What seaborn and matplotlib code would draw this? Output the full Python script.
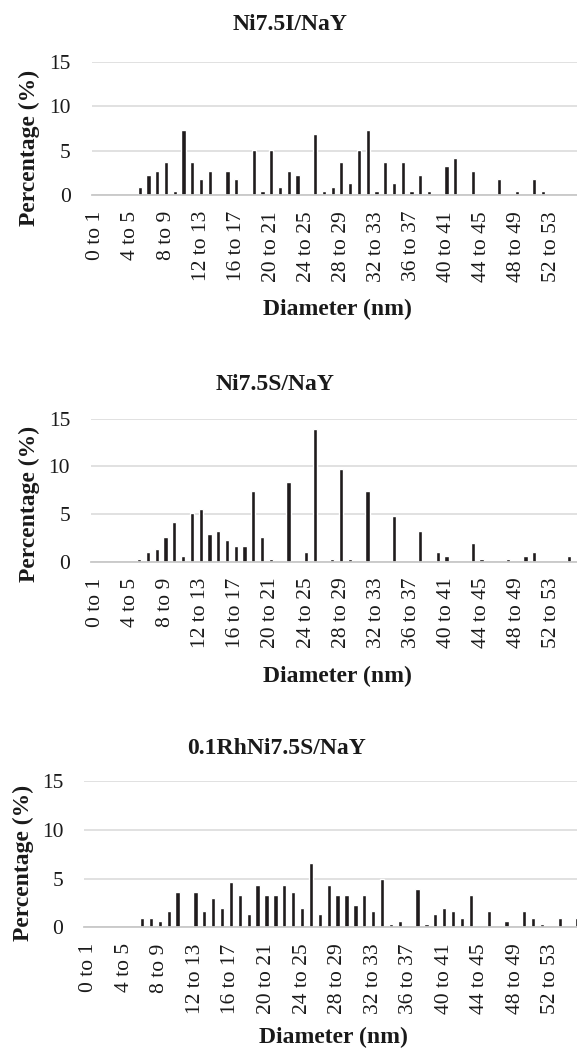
import matplotlib
matplotlib.use("Agg")
import matplotlib.pyplot as plt
import seaborn as sns
import pandas as pd

# ---------------- data ----------------
categories = [f"{i} to {i + 1}" for i in range(56)]

ni75i_nay = [0, 0, 0, 0, 0, 0.92, 2.30, 2.76, 3.69, 0.46,
             7.37, 3.69, 1.84, 2.76, 0, 2.76, 1.84, 0, 5.07, 0.46,
             5.07, 0.92, 2.76, 2.30, 0, 6.91, 0.46, 0.92, 3.69, 1.38,
             5.07, 7.37, 0.46, 3.69, 1.38, 3.69, 0.46, 2.30, 0.46, 0,
             3.23, 4.15, 0, 2.76, 0, 0, 1.84, 0, 0.46, 0,
             1.84, 0.46, 0, 0, 0, 0]

ni75s_nay = [0, 0, 0, 0, 0, 0.32, 0.97, 1.29, 2.58, 4.19,
             0.65, 5.16, 5.48, 2.90, 3.23, 2.26, 1.61, 1.61, 7.42, 2.58,
             0.32, 0, 8.39, 0, 0.97, 13.87, 0, 0.32, 9.68, 0.32,
             0, 7.42, 0, 0, 4.84, 0, 0, 3.23, 0, 0.97,
             0.65, 0, 0, 1.94, 0.32, 0, 0, 0.32, 0, 0.65,
             0.97, 0, 0, 0, 0.65, 0]

rh01_ni75s_nay = [0, 0, 0, 0, 0, 0, 0.99, 0.99, 0.66, 1.65,
                  3.63, 0, 3.63, 1.65, 2.97, 1.98, 4.62, 3.30, 1.32, 4.29,
                  3.30, 3.30, 4.29, 3.63, 1.98, 6.60, 1.32, 4.29, 3.30, 3.30,
                  2.31, 3.30, 1.65, 4.95, 0.33, 0.66, 0, 3.96, 0.33, 1.32,
                  1.98, 1.65, 0.99, 3.30, 0, 1.65, 0, 0.66, 0, 1.65,
                  0.99, 0.33, 0, 0.99, 0, 0.99]

titles = ["Ni7.5I/NaY", "Ni7.5S/NaY", "0.1RhNi7.5S/NaY"]
x_label = "Diameter (nm)"
y_label = "Percentage (%)"
y_ticks = [0, 5, 10, 15]
series = [ni75i_nay, ni75s_nay, rh01_ni75s_nay]

# ---------------- style ----------------
sns.set_style("white")
plt.rcParams["font.family"] = ["Liberation Serif", "DejaVu Serif"]

W, H = 577, 1051
fig = plt.figure(figsize=(W / 100, H / 100), dpi=100)

layouts = [
    dict(left=91.5, right=582.5, top=62.0, bottom=195.0,
         title=(290, 24), xlab=(337, 309), ylab=(29, 148)),
    dict(left=91.0, right=582.5, top=418.7, bottom=561.7,
         title=(275, 385), xlab=(337, 676), ylab=(29, 504)),
    dict(left=84.3, right=582.0, top=781.0, bottom=927.3,
         title=(276, 748), xlab=(333, 1037), ylab=(23, 863)),
]

bar_color = "#1f1b1c"

for vals, title, lay in zip(series, titles, layouts):
    ax = fig.add_axes([lay["left"] / W, 1 - lay["bottom"] / H,
                       (lay["right"] - lay["left"]) / W,
                       (lay["bottom"] - lay["top"]) / H])
    df = pd.DataFrame({"cat": categories, "pct": vals})
    sns.barplot(data=df, x="cat", y="pct", order=categories, color=bar_color,
                saturation=1, width=0.48, errorbar=None, ax=ax, zorder=2)
    ax.set_xlim(-0.5, 55.5)
    ax.set_ylim(0, 15)
    ax.set_yticks(y_ticks)
    ax.set_xticks(range(0, 56, 4))
    ax.set_xticklabels(categories[::4], rotation=90)
    ax.tick_params(axis="x", length=0, pad=11.5, labelsize=15.5, colors="#1a1a1a")
    ax.tick_params(axis="y", length=0, pad=15, labelsize=15.5, colors="#1a1a1a")
    ax.yaxis.grid(True, color="#d9d9d9", linewidth=1.1)
    ax.xaxis.grid(False)
    ax.set_axisbelow(True)
    for s in ["top", "right", "left"]:
        ax.spines[s].set_visible(False)
    ax.spines["bottom"].set_color("#c8c8c8")
    ax.spines["bottom"].set_linewidth(1.3)
    ax.spines["bottom"].set_zorder(3)
    ax.set_xlabel("")
    ax.set_ylabel("")

    fig.text(lay["title"][0] / W, 1 - lay["title"][1] / H, title,
             ha="center", va="center", fontsize=17, fontweight="bold", color="#1a1a1a")
    fig.text(lay["xlab"][0] / W, 1 - lay["xlab"][1] / H, x_label,
             ha="center", va="center", fontsize=17, fontweight="bold", color="#1a1a1a")
    fig.text(lay["ylab"][0] / W, 1 - lay["ylab"][1] / H, y_label,
             ha="center", va="center", rotation=90, fontsize=17,
             fontweight="bold", color="#1a1a1a")

fig.savefig("out.png", dpi=100, facecolor="white")
